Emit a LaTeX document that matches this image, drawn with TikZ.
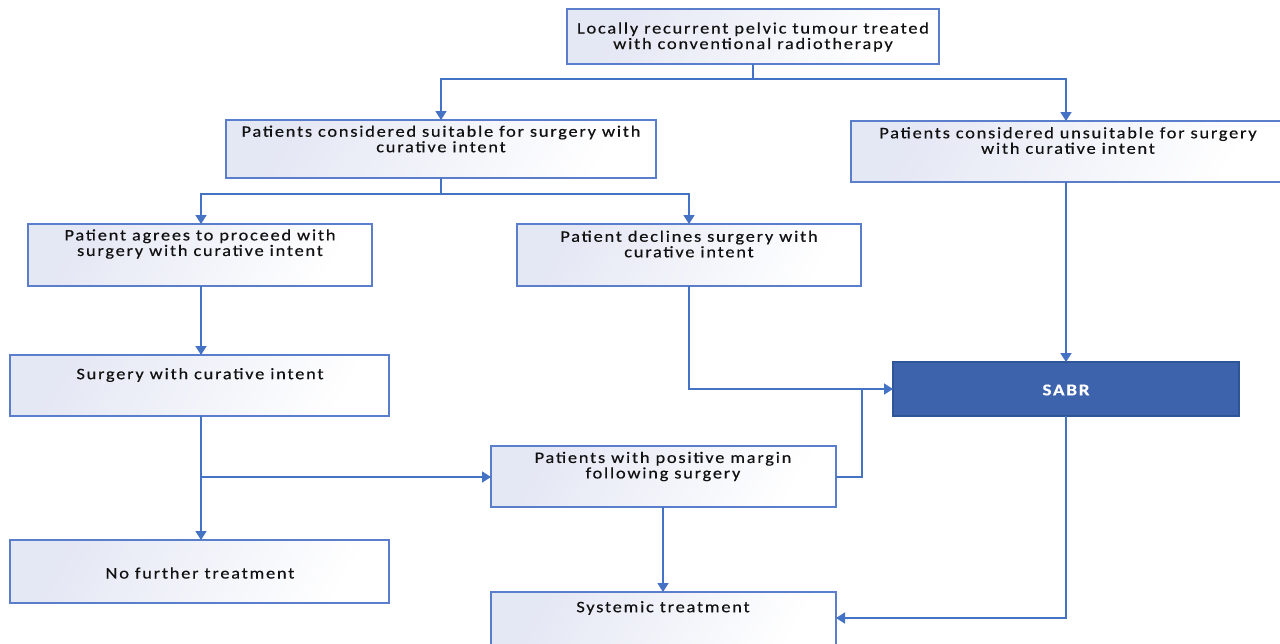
\documentclass[tikz,border=0pt]{standalone}
\usepackage{fontspec}
\setmainfont{Carlito}[LetterSpace=11,FakeStretch=1.15,FakeBold=0.4]
\usetikzlibrary{arrows.meta}
\definecolor{lineblue}{HTML}{4472C4}
\definecolor{boxedge}{HTML}{5A7ECB}
\definecolor{lav}{HTML}{E4E7F4}
\definecolor{sabrfill}{HTML}{3E63AD}
\definecolor{sabredge}{HTML}{2F5597}
\definecolor{txt}{HTML}{111111}
\begin{document}
\begin{tikzpicture}[x=1pt,y=-1pt,
  boxshape/.style={draw=boxedge,line width=1.2pt,left color=lav,right color=white,shading angle=60},
  sabrshape/.style={draw=sabredge,line width=1.2pt,fill=sabrfill},
  lbl/.style={font=\fontsize{16}{15.5}\selectfont,text=txt,align=center,inner sep=0pt},
  conn/.style={draw=lineblue,line width=1.7pt},
  arr/.style={conn,-{Triangle[length=9pt,width=11pt]}}]
\useasboundingbox (0,0) rectangle (1280,643);
% boxes
\path[boxshape] (567,9) rectangle (939,64);
\coordinate (top-n) at (753,9); \coordinate (top-s) at (753,64);
\path[boxshape] (226,120) rectangle (656,178);
\coordinate (suit-n) at (441,120); \coordinate (suit-s) at (441,178);
\path[boxshape] (851,121) rectangle (1285,182);
\coordinate (uns-n) at (1066,121); \coordinate (uns-s) at (1066,182);
\path[boxshape] (28,224) rectangle (372,286);
\coordinate (agr-n) at (201,224); \coordinate (agr-s) at (201,286);
\path[boxshape] (517,224) rectangle (861,286);
\coordinate (dec-n) at (689,224); \coordinate (dec-s) at (689,286);
\path[boxshape] (10,355) rectangle (389,416);
\coordinate (sur-n) at (201,355); \coordinate (sur-s) at (201,416);
\path[sabrshape] (893,362) rectangle (1239,416);
\coordinate (sabr-n) at (1066,362); \coordinate (sabr-s) at (1066,416); \coordinate (sabr-w) at (893,389);
\path[boxshape] (491,446) rectangle (836,507);
\coordinate (pos-w) at (491,477); \coordinate (pos-e) at (836,477); \coordinate (pos-s) at (663,507);
\path[boxshape] (10,540) rectangle (389,603);
\coordinate (nof-n) at (201,540);
\path[boxshape] (491,592) rectangle (836,650);
\coordinate (sys-n) at (663,592); \coordinate (sys-e) at (836,618);
% texts
\node[lbl] (t-top) at (753,37) {Locally recurrent pelvic tumour treated\\with conventional radiotherapy};
\node[lbl] (t-suit) at (441,139) {Patients considered suitable for surgery with\\curative intent};
\node[lbl] (t-uns) at (1068,140.5) {Patients considered unsuitable for surgery\\with curative intent};
\node[lbl] (t-agr) at (200,244) {Patient agrees to proceed with\\surgery with curative intent};
\node[lbl] (t-dec) at (689,244) {Patient declines surgery with\\curative intent};
\node[lbl] (t-sur) at (200,375) {Surgery with curative intent};
\node[lbl,text=white,font=\fontsize{16.5}{15.5}\selectfont\bfseries] (t-sabr) at (1066,390) {SABR};
\node[lbl] (t-pos) at (663,466.5) {Patients with positive margin\\following surgery};
\node[lbl] (t-nof) at (200,573) {No further treatment};
\node[lbl] (t-sys) at (663,608) {Systemic treatment};
% connectors
\coordinate (j1) at (753,79);
\draw[conn] (top-s) -- (j1);
\draw[arr] (j1) -| (suit-n);
\draw[arr] (j1) -| (uns-n);
\coordinate (j2) at (441,194);
\draw[conn] (suit-s) -- (j2);
\draw[arr] (j2) -| (agr-n);
\draw[arr] (j2) -| (dec-n);
\draw[arr] (agr-s) -- (sur-n);
\draw[arr] (dec-s) |- (sabr-w);
\coordinate (j3) at (862,389);
\draw[conn] (pos-e) -| (j3);
\draw[arr] (uns-s) -- (sabr-n);
\coordinate (j4) at (201,477);
\draw[arr] (sur-s) -- (nof-n);
\draw[arr] (j4) -- (pos-w);
\draw[arr] (pos-s) -- (sys-n);
\draw[arr] (sabr-s) |- (sys-e);
\end{tikzpicture}
\end{document}
